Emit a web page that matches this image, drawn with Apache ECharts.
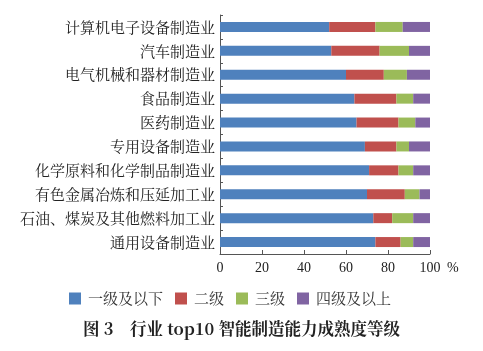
<!DOCTYPE html>
<html><head><meta charset="utf-8">
<script src="https://cdn.jsdelivr.net/npm/echarts@6/dist/echarts.min.js"></script>
<style>html,body{margin:0;padding:0;background:#fff}#c{width:483px;height:351px}</style>
</head><body><div id="c"></div>
<script>
const categories = ["计算机电子设备制造业","汽车制造业","电气机械和器材制造业","食品制造业","医药制造业","专用设备制造业","化学原料和化学制品制造业","有色金属冶炼和压延加工业","石油、煤炭及其他燃料加工业","通用设备制造业"];
const seriesNames = ["一级及以下","二级","三级","四级及以上"];
const level1 = [52, 53, 60, 64, 65, 69, 71, 70, 73, 74];
const level2 = [22, 23, 18, 20, 20, 15, 14, 18, 9, 12];
const level3 = [13, 14, 11, 8, 8, 6, 7, 7, 10, 6];
const level4 = [13, 10, 11, 8, 7, 10, 8, 5, 8, 8];
const colors = ["#4F81BD","#C0504D","#9BBB59","#8064A2"];
const xTicks = [0, 20, 40, 60, 80, 100];

const cjk = '"Noto Serif CJK SC","Noto Sans CJK SC",serif';
const chart = echarts.init(document.getElementById('c'));
const data = [level1, level2, level3, level4];
chart.setOption({
  animation: false,
  title: {
    text: "图 3　行业 top10 智能制造能力成熟度等级",
    left: 'center', top: 315,
    textStyle: {fontSize: 16.5, fontWeight: 'bold', color: '#222', fontFamily: cjk}
  },
  legend: {
    data: seriesNames, top: 286, left: 64,
    icon: 'rect', itemWidth: 12, itemHeight: 12, itemGap: 12,
    textStyle: {fontSize: 15, color: '#333', fontFamily: cjk, padding: [0,0,0,2]}
  },
  grid: {left: 220, right: 53, top: 15, bottom: 97, containLabel: false},
  xAxis: {
    type: 'value', min: xTicks[0], max: xTicks[xTicks.length-1], interval: 20,
    name: '%', nameLocation: 'end', nameGap: 17,
    nameTextStyle: {fontSize: 14, color: '#222', fontFamily: '"Liberation Serif",serif', verticalAlign: 'top', padding: [7,0,0,0]},
    axisLine: {show: true, lineStyle: {color: '#555'}},
    axisTick: {show: true, inside: true, length: 4, lineStyle: {color: '#555'}},
    axisLabel: {fontSize: 14, color: '#222', margin: 7, fontFamily: '"Liberation Serif",serif'},
    splitLine: {show: false}
  },
  yAxis: {
    type: 'category', data: categories, inverse: true,
    axisLine: {show: true, lineStyle: {color: '#555'}},
    axisTick: {show: true, inside: true, length: 3, lineStyle: {color: '#555'}},
    axisLabel: {fontSize: 15, color: '#222', margin: 5, fontFamily: cjk}
  },
  series: seriesNames.map((n, i) => ({
    name: n, type: 'bar', stack: 'total', data: data[i], barWidth: 10,
    itemStyle: {color: colors[i]}
  }))
});
</script></body></html>
